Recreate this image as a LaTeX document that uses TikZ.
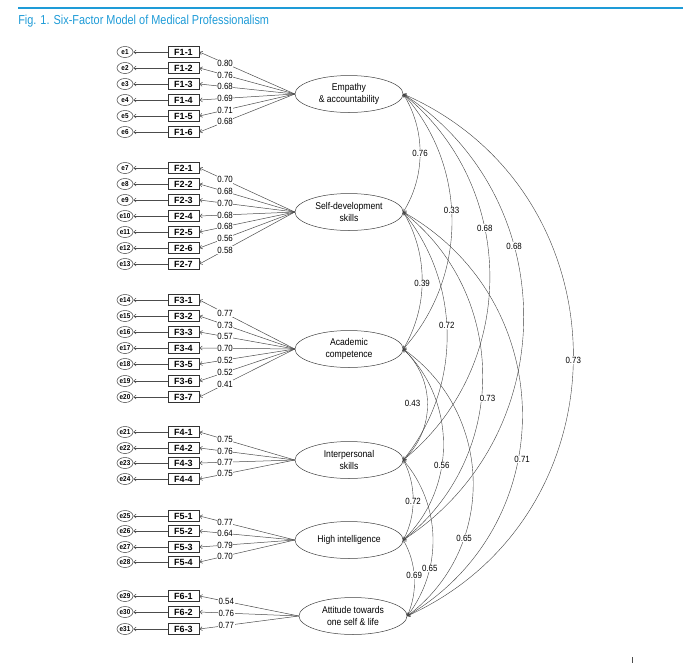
\documentclass[tikz,border=0pt]{standalone}
\usepackage{fontspec}
\setmainfont{Liberation Sans}
\newfontfamily\narrow{Liberation Sans}[FakeStretch=0.88]
\newfontfamily\titlefont{Liberation Sans}[FakeStretch=0.84]
\usetikzlibrary{shapes.geometric,arrows.meta}
\definecolor{figblue}{RGB}{30,155,215}

\begin{document}
\begin{tikzpicture}[x=1pt, y=-1pt,
                    line width=0.5pt,
                    >={Straight Barb[length=2.5pt,width=4pt]},
                    ]
    \tikzstyle{factor}=[ellipse, draw=black!75, minimum width=108pt, minimum height=37pt, inner sep=0pt, align=center, font=\narrow\fontsize{9.8}{11.8}\selectfont]
    \tikzstyle{indicator}=[rectangle, draw=black!80, line width=0.8pt, minimum width=31pt, minimum height=11pt, inner sep=0pt, font=\bfseries\fontsize{9}{9}\selectfont]
    \tikzstyle{errnode}=[ellipse, draw=black!75, minimum width=16pt, minimum height=11pt, inner sep=0pt, font=\narrow\bfseries\fontsize{7.2}{7.2}\selectfont]
    \tikzstyle{coef}=[fill=white, text=black, inner sep=0.6pt, font=\narrow\fontsize{9}{9}\selectfont]

    \useasboundingbox (0,0) rectangle (683,665);

    \draw[figblue, line width=2.5pt] (18,8) -- (683,8);
    \node[anchor=west, inner sep=0pt, text=figblue, font=\titlefont\fontsize{13}{13}\selectfont] (title) at (18,21) {Fig. 1. Six-Factor Model of Medical Professionalism};

    \node[factor] (f1) at (349,94)  {Empathy\\\& accountability};
    \node[factor] (f2) at (349,212) {Self-development\\skills};
    \node[factor] (f3) at (349,349) {Academic\\competence};
    \node[factor] (f4) at (349,460) {Interpersonal\\skills};
    \node[factor] (f5) at (349,540) {High intelligence};
    \node[factor] (f6) at (353,616) {Attitude towards\\one self \& life};

    \foreach \g/\k/\y/\e/\w in {1/1/52/1/0.80, 1/2/68/2/0.76, 1/3/84/3/0.68, 1/4/100/4/0.69, 1/5/116/5/0.71, 1/6/132/6/0.68,
                                2/1/168/7/0.70, 2/2/184/8/0.68, 2/3/200/9/0.70, 2/4/216/10/0.68, 2/5/232/11/0.68, 2/6/248/12/0.56, 2/7/264/13/0.58,
                                3/1/300/14/0.77, 3/2/316/15/0.73, 3/3/332/16/0.57, 3/4/348/17/0.70, 3/5/364/18/0.52, 3/6/381/19/0.52, 3/7/397/20/0.41,
                                4/1/432/21/0.75, 4/2/448/22/0.76, 4/3/463/23/0.77, 4/4/479/24/0.75,
                                5/1/516/25/0.77, 5/2/531/26/0.64, 5/3/547/27/0.79, 5/4/562/28/0.70,
                                6/1/596/29/0.54, 6/2/612/30/0.76, 6/3/629/31/0.77}{
        \node[indicator] (x\g-\k) at (183.5,\y) {F\g-\k};
        \node[errnode] (e\e) at (125,\y) {e\e};
        \draw[->, black!70] (x\g-\k) -- (e\e);
        \draw[<-, black!70] (x\g-\k.east) -- node[coef, pos=0.27] {\w} (f\g.west);
    }

    \foreach \a/\b/\ang/\loos/\p/\sh/\r in {1/2/32/0.92/0.5/0/0.76, 1/3/42/0.975/0.46/0/0.33, 1/4/51/1.04/0.38/0/0.68,
                                           1/5/57/1.10/0.36/0/0.68, 1/6/66/1.20/0.51/0/0.73,
                                           2/3/31/0.915/0.52/0/0.39, 2/4/39/0.96/0.46/0/0.72, 2/5/52/1.05/0.56/6/0.73,
                                           2/6/60/1.14/0.6/4/0.71,
                                           3/4/47/1.02/0.49/-15/0.43, 3/5/46/1.0/0.6/0/0.56, 3/6/54/1.07/0.69/0/0.65,
                                           4/5/28/0.90/0.52/0/0.72, 4/6/39/0.96/0.69/0/0.65,
                                           5/6/27/0.90/0.47/0/0.69}{
        \draw[<->, black!75, line width=0.4pt] (f\a.east) to[bend left=\ang, looseness=\loos] node[coef, pos=\p, xshift=\sh pt] {\r} (f\b.east);
    }

    \draw[black!70] (632,657) -- (632,663);
\end{tikzpicture}
\end{document}
